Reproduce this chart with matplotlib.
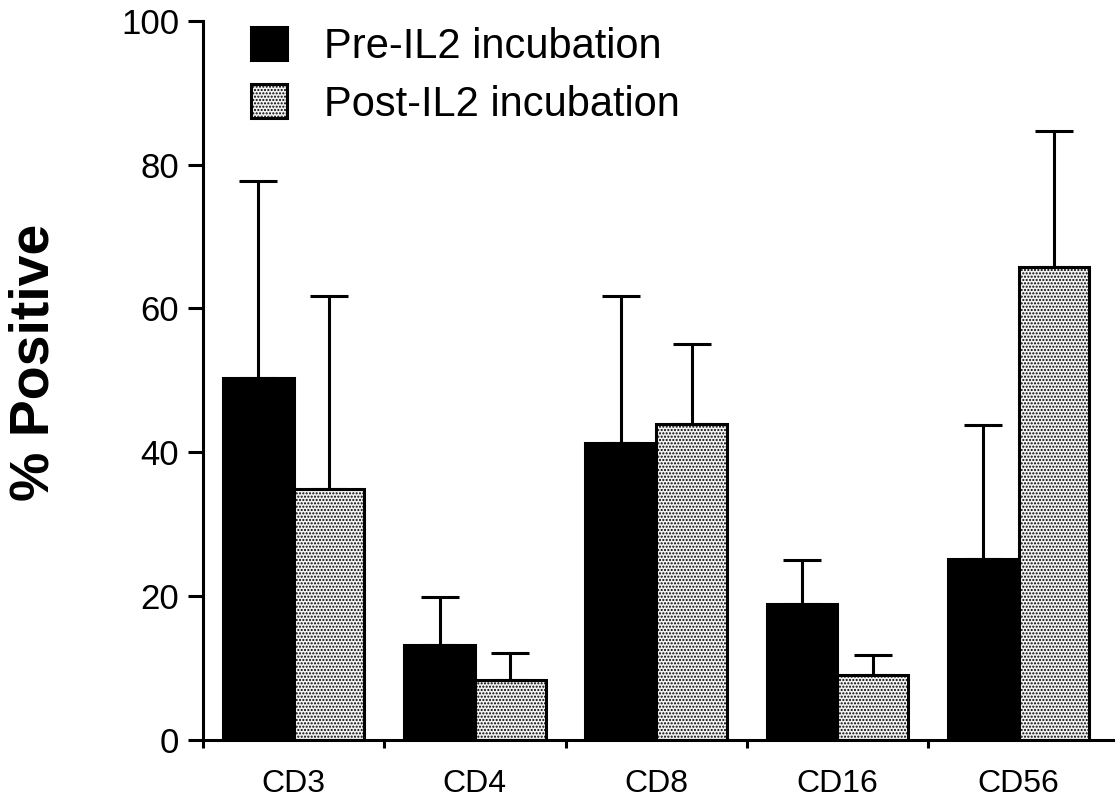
import matplotlib
matplotlib.use("Agg")
import matplotlib.pyplot as plt
from matplotlib.patches import Patch
import numpy as np

plt.rcParams['font.family'] = ['Liberation Sans', 'DejaVu Sans']
plt.rcParams['hatch.linewidth'] = 1.0
plt.rcParams['hatch.color'] = '#555555'

markers = ["CD3", "CD4", "CD8", "CD16", "CD56"]
pre_mean = [50.3, 13.2, 41.3, 18.9, 25.1]
pre_err = [27.4, 6.7, 20.4, 6.1, 18.7]
post_mean = [34.9, 8.3, 43.9, 9.0, 65.8]
post_err = [26.8, 3.8, 11.1, 2.8, 18.9]
series_labels = ["Pre-IL2 incubation", "Post-IL2 incubation"]

fig = plt.figure(figsize=(11.17, 8.0), dpi=100)
ax = fig.add_axes([0.1817, 0.075, 0.8147, 0.899])

x = np.arange(len(markers))
w = 0.39
lw = 2.2

ax.bar(x + 0.5 - w / 2, pre_mean, width=w, color='black', edgecolor='black',
       linewidth=lw, zorder=2)
ax.bar(x + 0.5 + w / 2, post_mean, width=w, color='#f2f2f2', edgecolor='black',
       linewidth=lw, hatch='.....', zorder=2)

err_kw = dict(fmt='none', ecolor='black', elinewidth=lw, capsize=13.5,
              capthick=lw, zorder=1)
ax.errorbar(x + 0.5 - w / 2, pre_mean,
            yerr=[np.zeros(len(pre_err)), pre_err], **err_kw)
ax.errorbar(x + 0.5 + w / 2, post_mean,
            yerr=[np.zeros(len(post_err)), post_err], **err_kw)

ax.set_xlim(0, 5.02)
ax.set_ylim(0, 100)
ax.spines['top'].set_visible(False)
ax.spines['right'].set_visible(False)
for s in ('left', 'bottom'):
    ax.spines[s].set_linewidth(2.2)

ax.set_yticks([0, 20, 40, 60, 80, 100])
ax.tick_params(axis='y', length=11, width=2.2, labelsize=25, pad=6)
ax.set_xticks(np.arange(0, 5))
ax.set_xticklabels([])
ax.tick_params(axis='x', which='major', length=6, width=2.2)
ax.set_xticks(x + 0.5, minor=True)
ax.set_xticklabels(markers, minor=True)
ax.tick_params(axis='x', which='minor', length=0, labelsize=23, pad=21)

fig.text(0.031, 0.547, "% Positive", rotation=90, fontsize=40,
         fontweight='bold', ha='center', va='center')

handles = [Patch(facecolor='black', edgecolor='black', linewidth=lw),
           Patch(facecolor='#f2f2f2', edgecolor='black', linewidth=lw,
                 hatch='.....')]
ax.legend(handles, series_labels, loc='upper left', bbox_to_anchor=(0.034, 1.015),
          frameon=False, fontsize=30, handlelength=0.87, handleheight=0.87,
          handletextpad=0.9, labelspacing=0.42, borderaxespad=0)

fig.savefig("out.png", dpi=100)
